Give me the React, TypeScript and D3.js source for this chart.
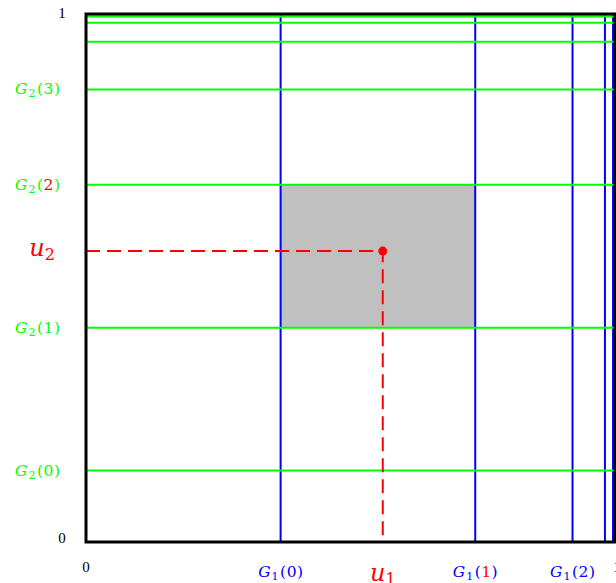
import React from "react";
import * as d3 from "d3";

// Poisson(1) CDF breakpoints (vertical blue lines) and Poisson(2) CDF (horizontal green lines)
const g1Values = [0.3679, 0.7358, 0.9197, 0.981, 0.9963, 0.9994];
const g2Values = [0.1353, 0.406, 0.6767, 0.8571, 0.9473, 0.9834, 0.9955, 0.9989];
const g1Labels = [0, 1, 2];
const g2Labels = [0, 1, 2, 3];
const highlightIndex = [1, 2]; // index in G1 and G2 drawn in red
const u1 = 0.561;
const u2 = 0.551;

const W = 616;
const H = 583;

export default function App() {
  const x = d3.scaleLinear().domain([0, 1]).range([86, 615]);
  const y = d3.scaleLinear().domain([0, 1]).range([542, 14]);
  const font = "'DejaVu Serif', 'Liberation Serif', serif";
  const tickFont = "'Liberation Serif', serif";

  const rectX0 = x(g1Values[0]);
  const rectX1 = x(g1Values[1]);
  const rectY0 = y(g2Values[2]);
  const rectY1 = y(g2Values[1]);

  const glabel = (
    sub: string,
    arg: number,
    color: string,
    red: boolean,
    key: string,
    props: any
  ) => (
    <text key={key} fontFamily={font} fontSize={15.5} fill={color} {...props}>
      <tspan fontStyle="italic">G</tspan>
      <tspan fontSize={11} dy={3} dx={1}>{sub}</tspan>
      <tspan dy={-3} dx={1.5}>(</tspan>
      <tspan fill={red ? "#ff0000" : color} dx={0.5}>{arg}</tspan>
      <tspan dx={0.5}>)</tspan>
    </text>
  );

  return (
    <svg
      width={W}
      height={H}
      style={{ position: "absolute", left: 0, top: 0, background: "#fff" }}
    >
      <rect
        x={rectX0}
        y={rectY0}
        width={rectX1 - rectX0}
        height={rectY1 - rectY0}
        fill="#c0c0c0"
      />
      {g1Values.map((v, i) => (
        <line key={"b" + i} x1={x(v)} x2={x(v)} y1={y(0)} y2={y(1)} stroke="#0000ff" strokeWidth={2} />
      ))}
      {g2Values.map((v, i) => (
        <line key={"g" + i} x1={x(0)} x2={x(1)} y1={y(v)} y2={y(v)} stroke="#00ff00" strokeWidth={2} />
      ))}
      <path
        d={`M${x(0)},${y(u2)}H${x(u1)}V${y(0)}`}
        fill="none"
        stroke="#ff0000"
        strokeWidth={2}
        strokeDasharray="14,7"
      />
      <circle cx={x(u1)} cy={y(u2)} r={4.5} fill="#ff0000" />
      <rect
        x={x(0)}
        y={y(1)}
        width={x(1) - x(0)}
        height={y(0) - y(1)}
        fill="none"
        stroke="#000"
        strokeWidth={3}
      />
      {/* axis tick labels */}
      <text x={62} y={18} fontFamily={tickFont} fontSize={15} fill="#000" textAnchor="middle">1</text>
      <text x={62} y={543} fontFamily={tickFont} fontSize={15} fill="#000" textAnchor="middle">0</text>
      <text x={x(0)} y={572} fontFamily={tickFont} fontSize={15} fill="#000" textAnchor="middle">0</text>
      <text x={x(1) + 2} y={572} fontFamily={tickFont} fontSize={15} fill="#000" textAnchor="middle">1</text>
      {g2Labels.map((k) =>
        glabel("2", k, "#00ff00", k === highlightIndex[1], "gl" + k, {
          x: 60,
          y: y(g2Values[k]) + 5,
          textAnchor: "end",
        })
      )}
      {g1Labels.map((k) =>
        glabel("1", k, "#0000ff", k === highlightIndex[0], "bl" + k, {
          x: x(g1Values[k]),
          y: 577,
          textAnchor: "middle",
        })
      )}
      <text x={55} y={256} fontFamily={font} fontSize={24} fill="#ff0000" textAnchor="end">
        <tspan fontStyle="italic">u</tspan>
        <tspan fontSize={16} dy={4}>2</tspan>
      </text>
      <text x={x(u1)} y={581} fontFamily={font} fontSize={24} fill="#ff0000" textAnchor="middle">
        <tspan fontStyle="italic">u</tspan>
        <tspan fontSize={16} dy={4}>1</tspan>
      </text>
    </svg>
  );
}
